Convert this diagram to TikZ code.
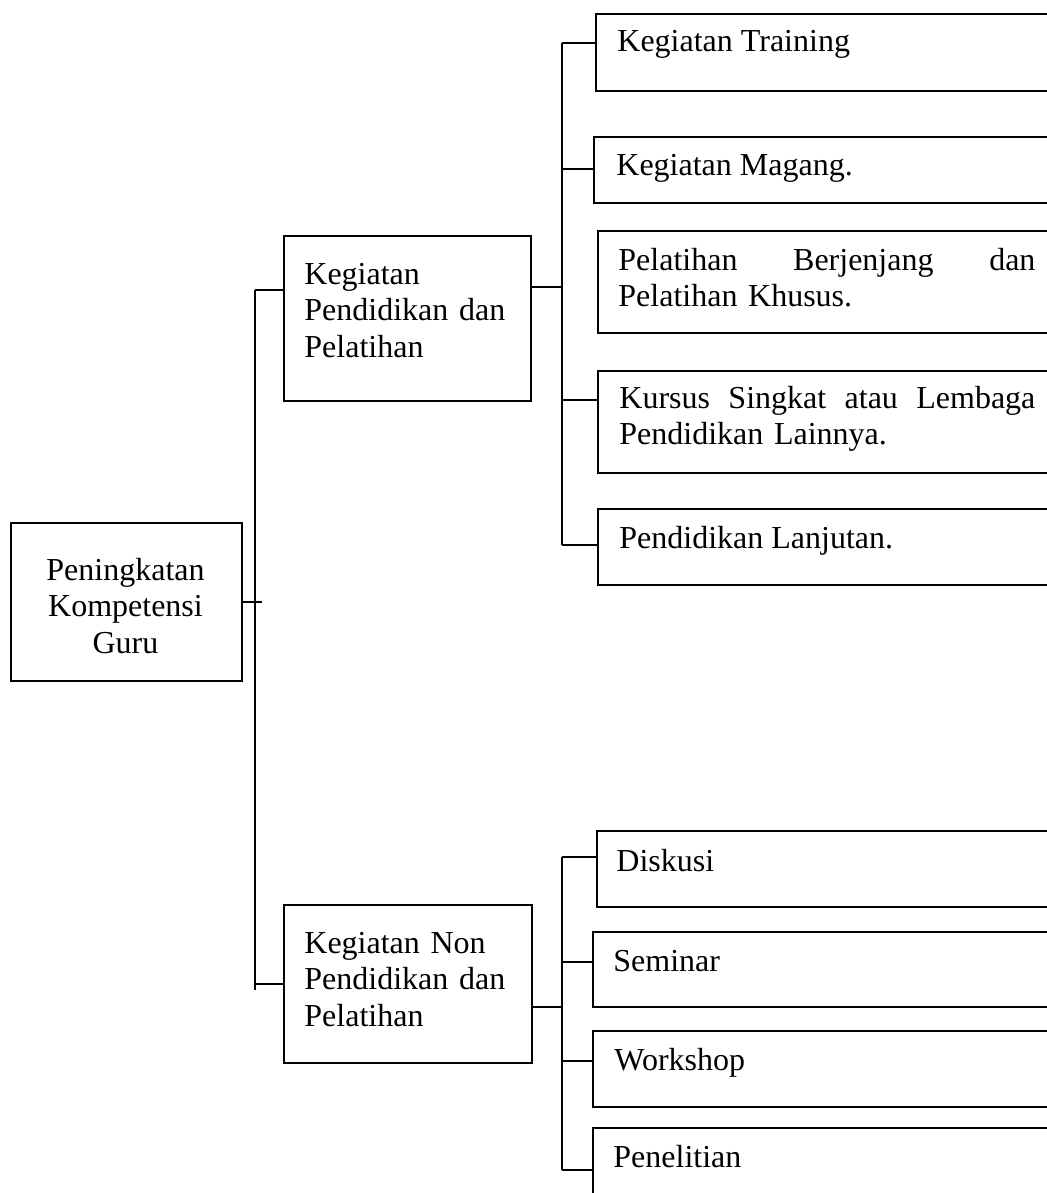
\documentclass[tikz,border=0pt]{standalone}
\usepackage{fontspec}
\setmainfont{Liberation Serif}
\usepackage{tikz}
\usetikzlibrary{positioning, calc}

\tikzset{
  kotak/.style={draw, line width=0.9pt, inner sep=0pt, anchor=north west},
  teks/.style={font=\fontsize{16}{18.3}\selectfont, inner sep=0pt, anchor=base west, align=left},
  garis/.style={line width=0.9pt}
}

\begin{document}
\begin{tikzpicture}[x=0.5pt, y=-0.5pt]
  \useasboundingbox (0,0) rectangle (1047,1193);
  \clip (0,0) rectangle (1047,1193);

  % akar
  \node[kotak, minimum width=115.5pt, minimum height=79pt] (guru) at (10,522) {};
  \node[teks, anchor=base, text width=110pt, align=center] (guru-t) at (125.5,580)
    {Peningkatan\\ Kompetensi\\ Guru};

  % tingkat 1
  \node[kotak, minimum width=123.5pt, minimum height=82.5pt] (didik) at (283,235) {};
  \node[teks, text width=110pt] (didik-t) at (304,284) {Kegiatan\\ Pendidikan dan\\ Pelatihan};
  \node[kotak, minimum width=124pt, minimum height=79pt] (nondidik) at (283,904) {};
  \node[teks, text width=110pt] (nondidik-t) at (304,953) {Kegiatan Non\\ Pendidikan dan\\ Pelatihan};

  % cabang pendidikan dan pelatihan
  \node[kotak, minimum width=232.5pt, minimum height=38.5pt] (training) at (595,13) {};
  \node[teks] (training-t) at (617,52) {Kegiatan Training};
  \node[kotak, minimum width=233.5pt, minimum height=33pt] (magang) at (593,136) {};
  \node[teks] (magang-t) at (616,176) {Kegiatan Magang.};
  \node[kotak, minimum width=231.5pt, minimum height=51pt] (berjenjang) at (597,230) {};
  \node[teks, text width=208.5pt] (berjenjang-t) at (618,270)
    {\makebox[208.5pt][l]{Pelatihan\hfill Berjenjang\hfill dan}\\ Pelatihan Khusus.};
  \node[kotak, minimum width=231.5pt, minimum height=51pt] (kursus) at (597,370) {};
  \node[teks, text width=208pt] (kursus-t) at (619,408)
    {\makebox[208pt][l]{Kursus\hfill Singkat\hfill atau\hfill Lembaga}\\ Pendidikan Lainnya.};
  \node[kotak, minimum width=231.5pt, minimum height=38pt] (lanjutan) at (597,508) {};
  \node[teks] (lanjutan-t) at (619,548) {Pendidikan Lanjutan.};

  % cabang non pendidikan dan pelatihan
  \node[kotak, minimum width=232pt, minimum height=38pt] (diskusi) at (596,830) {};
  \node[teks] (diskusi-t) at (616,871) {Diskusi};
  \node[kotak, minimum width=234pt, minimum height=37.5pt] (seminar) at (592,931) {};
  \node[teks] (seminar-t) at (613,971) {Seminar};
  \node[kotak, minimum width=234pt, minimum height=38pt] (workshop) at (592,1030) {};
  \node[teks] (workshop-t) at (614,1070) {Workshop};
  \node[kotak, minimum width=234pt, minimum height=45pt] (penelitian) at (592,1127) {};
  \node[teks] (penelitian-t) at (613,1167) {Penelitian};

  % titik pada garis penghubung
  \coordinate (tA) at (255,290);
  \coordinate (tB) at (255,984);
  \coordinate (a1) at (562,43);
  \coordinate (a2) at (562,169);
  \coordinate (a3) at (562,287);
  \coordinate (a4) at (562,400);
  \coordinate (a5) at (562,545);
  \coordinate (c1) at (562,857);
  \coordinate (c2) at (562,962);
  \coordinate (cm) at (562,1007);
  \coordinate (c3) at (562,1061);
  \coordinate (c4) at (562,1170);

  % garis penghubung
  \draw[garis, shorten >=-3.5pt] (guru.east) -- (guru.east -| tA);
  \draw[garis, shorten >=-3pt] (tA) -- (tB);
  \draw[garis] (tA) -- (tA -| didik.west);
  \draw[garis] (tB) -- (tB -| nondidik.west);

  \draw[garis] (a3 -| didik.east) -- (a3);
  \draw[garis] (a1) -- (a5);
  \draw[garis] (a1) -- (a1 -| training.west);
  \draw[garis] (a2) -- (a2 -| magang.west);
  \draw[garis] (a4) -- (a4 -| kursus.west);
  \draw[garis] (a5) -- (a5 -| lanjutan.west);

  \draw[garis] (cm -| nondidik.east) -- (cm);
  \draw[garis] (c1) -- (c4);
  \draw[garis] (c1) -- (c1 -| diskusi.west);
  \draw[garis] (c2) -- (c2 -| seminar.west);
  \draw[garis] (c3) -- (c3 -| workshop.west);
  \draw[garis] (c4) -- (c4 -| penelitian.west);
\end{tikzpicture}
\end{document}
